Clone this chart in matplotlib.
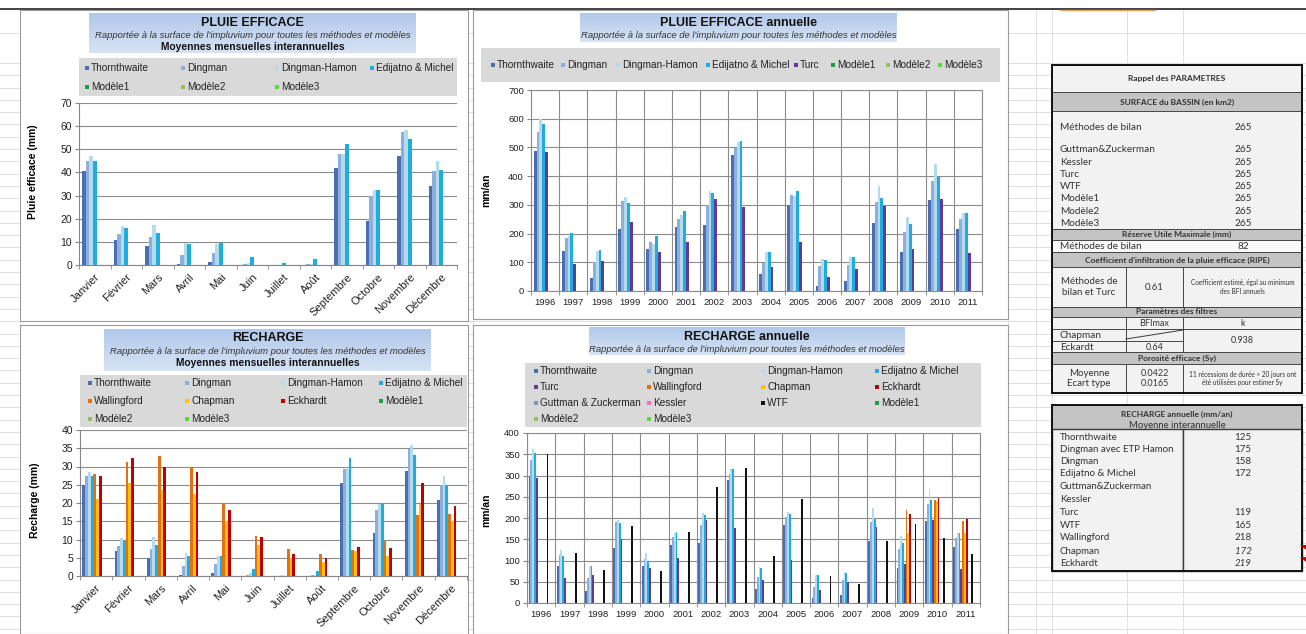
import numpy as np
import matplotlib
matplotlib.use('Agg')
import matplotlib.pyplot as plt
from matplotlib.patches import Rectangle, Polygon
from matplotlib.colors import LinearSegmentedColormap

W, H = 1306, 634

# ---- data ----
MOIS = ['Janvier', 'Février', 'Mars', 'Avril', 'Mai', 'Juin', 'Juillet', 'Août',
        'Septembre', 'Octobre', 'Novembre', 'Décembre']
ANNEES = ['1996', '1997', '1998', '1999', '2000', '2001', '2002', '2003',
          '2004', '2005', '2006', '2007', '2008', '2009', '2010', '2011']

# pluie efficace, moyennes mensuelles (mm)
pe_mois_thornthwaite = [40.5, 11, 8, 0.5, 1.2, 0, 0, 0, 42, 19, 47, 34]
pe_mois_dingman = [45, 13.5, 12, 4.5, 5, 0.5, 0, 0.3, 48, 30, 57.5, 40.5]
pe_mois_dingman_hamon = [47, 17, 17.5, 9.5, 9, 1, 0, 0.3, 48, 32.5, 58.5, 45]
pe_mois_edijatno = [45, 16, 14, 9, 9.5, 3.5, 1, 2.5, 52.5, 32.5, 54.5, 41]

# pluie efficace annuelle (mm/an)
pe_an_thornthwaite = [488, 140, 47, 216, 145, 223, 231, 474, 58, 299, 19, 34, 236, 137, 316, 215]
pe_an_dingman = [552, 184, 100, 313, 169, 252, 301, 499, 98, 334, 87, 90, 309, 206, 384, 252]
pe_an_dingman_hamon = [598, 193, 140, 328, 165, 264, 349, 519, 135, 330, 110, 119, 367, 258, 441, 272]
pe_an_edijatno = [581, 203, 142, 308, 193, 277, 342, 521, 135, 348, 109, 119, 323, 233, 398, 271]
pe_an_turc = [485, 95, 105, 242, 135, 171, 320, 292, 84, 169, 50, 78, 297, 148, 322, 134]

# recharge, moyennes mensuelles (mm)
rc_mois_thornthwaite = [25, 6.8, 5, 0.3, 0.8, 0, 0, 0, 25.5, 11.8, 28.8, 20.8]
rc_mois_dingman = [27.5, 8.2, 7.5, 2.7, 3.3, 0.3, 0, 0.2, 29.2, 18.2, 34.8, 24.8]
rc_mois_dingman_hamon = [28.5, 10.5, 10.7, 6.2, 5.5, 0.7, 0.2, 0.2, 29.3, 19.8, 35.8, 27.4]
rc_mois_edijatno = [27.5, 9.5, 8.4, 5.6, 5.6, 2, 0, 1.5, 32.2, 19.8, 33.2, 25]
rc_mois_wallingford = [28, 31.3, 33, 30, 19.8, 11, 7.5, 6, 7, 9.7, 16.7, 17]
rc_mois_chapman = [21, 25.5, 23.5, 22.5, 15, 8.5, 5, 3.8, 6.8, 5.6, 19.8, 15]
rc_mois_eckhardt = [27.5, 32.3, 30, 28.4, 18, 10.7, 6, 4.8, 8, 7.6, 25.6, 19.2]

# recharge annuelle (mm/an), filtres seulement sur 2009-2011
rc_an_thornthwaite = [298, 86, 28, 130, 88, 136, 141, 289, 34, 184, 12, 20, 145, 82, 193, 132]
rc_an_dingman = [336, 112, 60, 190, 103, 155, 184, 304, 61, 202, 38, 53, 190, 128, 234, 154]
rc_an_dingman_hamon = [363, 124, 88, 196, 118, 165, 212, 316, 84, 213, 67, 73, 224, 158, 269, 165]
rc_an_edijatno = [354, 110, 87, 188, 100, 168, 208, 316, 82, 210, 66, 71, 198, 141, 243, 165]
rc_an_turc = [295, 58, 65, 150, 82, 106, 196, 176, 53, 102, 31, 49, 179, 91, 195, 81]
nan = np.nan
rc_an_wallingford = [nan] * 13 + [218, 242, 193]
rc_an_chapman = [nan] * 13 + [165, 240, 165]
rc_an_eckhardt = [nan] * 13 + [210, 246, 198]
rc_an_wtf = [350, 118, 77, 182, 76, 166, 274, 318, 111, 245, 63, 45, 145, 186, 152, 116]

# tableau des parametres
surface_noms = ['Guttman&Zuckerman', 'Kessler', 'Turc', 'WTF', 'Modèle1', 'Modèle2', 'Modèle3']
surface_km2 = 265
recharge_noms = ['Thornthwaite', 'Dingman avec ETP Hamon', 'Dingman', 'Edijatno & Michel',
                 'Guttman&Zuckerman', 'Kessler', 'Turc', 'WTF', 'Wallingford', 'Chapman', 'Eckhardt']
recharge_moy = ['125', '175', '158', '172', '', '', '119', '165', '218', '172', '219']

COUL = {
    'Thornthwaite': '#4a6fb0',
    'Dingman': '#8eafde',
    'Dingman-Hamon': '#b4dbe9',
    'Edijatno & Michel': '#1fade0',
    'Turc': '#5e3a99',
    'Wallingford': '#e4700f',
    'Chapman': '#ffc000',
    'Eckhardt': '#c00000',
    'Guttman & Zuckerman': '#8395b0',
    'Kessler': '#ff66cc',
    'WTF': '#111111',
    'Modèle1': '#1f9a4c',
    'Modèle2': '#9bbb59',
    'Modèle3': '#5ed63c',
}

FONT = 'Liberation Sans'
TFONT = 'Lato'

fig = plt.figure(figsize=(W / 100, H / 100), dpi=100)
bg = fig.add_axes([0, 0, 1, 1], zorder=0)
bg.set_xlim(0, W)
bg.set_ylim(H, 0)
bg.axis('off')

# spreadsheet cells behind everything
for x in [20, 473, 1008, 1036, 1052, 1127, 1183]:
    bg.plot([x, x], [10, H], color='#dadada', lw=0.6, zorder=0)
rows = [33, 63] + list(np.arange(75.3, H, 12.3))
for y in rows:
    bg.plot([0, W], [y, y], color='#dadada', lw=0.6, zorder=0)
bg.plot([0, W], [9, 9], color='#333333', lw=1.3, zorder=1)
bg.plot([1060, 1155], [10, 10], color='#e0a060', lw=1.0, zorder=1)

# chart panels
for (x0, y0, x1, y1) in [(20, 10, 468, 321), (473, 10, 1008, 319),
                         (20, 325, 468, 634), (473, 325, 1008, 634)]:
    bg.add_patch(Rectangle((x0, y0), x1 - x0, y1 - y0, fc='white', ec='#9a9a9a', lw=0.8, zorder=1))

title_cmap = LinearSegmentedColormap.from_list('titre', ['#b1c8ea', '#d6e3f4'])


def title_box(x0, y0, x1, y1, lines):
    grad = np.linspace(0, 1, 60)[:, None]
    bg.imshow(grad, cmap=title_cmap, extent=[x0, x1, y1, y0], aspect='auto', zorder=2)
    xc = (x0 + x1) / 2
    for txt, y, size, weight, style in lines:
        bg.text(xc, y, txt, ha='center', va='center', fontsize=size, fontweight=weight,
                fontstyle=style, family=FONT, color='#111111' if style == 'normal' else '#333333',
                zorder=3)


def legend_box(x0, y0, x1, y1, names, cols_x, rows_y):
    bg.add_patch(Rectangle((x0, y0), x1 - x0, y1 - y0, fc='#d9d9d9', ec='none', zorder=2))
    n = len(cols_x)
    for i, name in enumerate(names):
        x = cols_x[i % n]
        y = rows_y[i // n]
        bg.add_patch(Rectangle((x - 2.3, y - 2.3), 4.6, 4.6, fc=COUL[name], ec='none', zorder=3))
        bg.text(x + 4, y, name, ha='left', va='center', fontsize=7.2, family=FONT,
                color='#222222', zorder=3)


def px_axes(x0, y0, x1, y1):
    return fig.add_axes([x0 / W, 1 - y1 / H, (x1 - x0) / W, (y1 - y0) / H], zorder=2)


def bar_chart(rect, cats, series, nslot, group, ymax, step, annual):
    ax = px_axes(*rect)
    n = len(cats)
    x = np.arange(n)
    w = group / nslot
    for k, (name, vals) in enumerate(series):
        if vals is None:
            continue
        ax.bar(x + (k - (nslot - 1) / 2) * w, vals, width=w, color=COUL[name],
               edgecolor='none', zorder=3)
    ax.set_xlim(-0.5, n - 0.5)
    ax.set_ylim(0, ymax)
    ax.set_yticks(np.arange(0, ymax + 1, step))
    ax.set_xticks(x)
    ax.set_xticks(np.arange(-0.5, n), minor=True)
    ax.set_axisbelow(True)
    ax.yaxis.grid(True, color='#8c8c8c', lw=0.8)
    ax.tick_params(axis='y', length=3, color='#868686', labelsize=6.8 if annual else 7.5, pad=2)
    ax.tick_params(axis='x', which='major', length=0, labelsize=6.8 if annual else 8)
    ax.tick_params(axis='x', which='minor', length=3, color='#868686')
    for lab in ax.get_yticklabels():
        lab.set_family(FONT)
        lab.set_color('#222222')
    if annual:
        ax.set_xticklabels(cats, family=FONT, color='#222222')
        ax.tick_params(axis='x', which='major', pad=5)
        ax.xaxis.grid(True, which='minor', color='#8c8c8c', lw=0.8)
        for s in ax.spines.values():
            s.set_color('#8c8c8c')
            s.set_linewidth(0.8)
    else:
        ax.set_xticklabels(cats, rotation=45, ha='right', rotation_mode='anchor',
                           family=FONT, color='#222222')
        ax.tick_params(axis='x', which='major', pad=5)
        ax.spines['top'].set_visible(False)
        ax.spines['right'].set_visible(False)
        ax.spines['left'].set_color('#868686')
        ax.spines['bottom'].set_color('#868686')
    return ax


SOUS_TITRE = "Rapportée à la surface de l'impluvium pour toutes les méthodes et modèles"

# ---- PLUIE EFFICACE mensuelle ----
title_box(89, 13, 416, 53, [('PLUIE EFFICACE', 22.7, 9, 'bold', 'normal'),
                            (SOUS_TITRE, 35, 6.8, 'normal', 'italic'),
                            ('Moyennes mensuelles interannuelles', 46.7, 7.4, 'bold', 'normal')])
noms_pe_mois = ['Thornthwaite', 'Dingman', 'Dingman-Hamon', 'Edijatno & Michel',
                'Modèle1', 'Modèle2', 'Modèle3']
legend_box(79, 58, 457, 96, noms_pe_mois, [87, 183, 277, 372], [68, 87])
bar_chart((79, 103, 457, 265), MOIS,
          [('Thornthwaite', pe_mois_thornthwaite), ('Dingman', pe_mois_dingman),
           ('Dingman-Hamon', pe_mois_dingman_hamon), ('Edijatno & Michel', pe_mois_edijatno),
           ('Modèle1', None), ('Modèle2', None), ('Modèle3', None)],
          7, 0.79, 70, 10, False)
bg.text(33, 172, 'Pluie efficace (mm)', rotation=90, ha='center', va='center',
        fontsize=7.5, fontweight='bold', family=FONT, zorder=3)

# ---- PLUIE EFFICACE annuelle ----
title_box(580, 13, 897, 42, [('PLUIE EFFICACE annuelle', 22.7, 9, 'bold', 'normal'),
                             (SOUS_TITRE, 35.7, 6.8, 'normal', 'italic')])
noms_pe_an = ['Thornthwaite', 'Dingman', 'Dingman-Hamon', 'Edijatno & Michel', 'Turc',
              'Modèle1', 'Modèle2', 'Modèle3']
legend_box(481, 48, 1000, 82, noms_pe_an,
           [493, 563, 618, 708, 796, 833, 888, 940], [65])
bar_chart((531, 90, 982, 291), ANNEES,
          [('Thornthwaite', pe_an_thornthwaite), ('Dingman', pe_an_dingman),
           ('Dingman-Hamon', pe_an_dingman_hamon), ('Edijatno & Michel', pe_an_edijatno),
           ('Turc', pe_an_turc), ('Modèle1', None), ('Modèle2', None), ('Modèle3', None)],
          8, 0.81, 700, 100, True)
bg.text(486, 190, 'mm/an', rotation=90, ha='center', va='center',
        fontsize=7.5, fontweight='bold', family=FONT, zorder=3)

# ---- RECHARGE mensuelle ----
title_box(104, 329, 431, 371, [('RECHARGE', 338, 9, 'bold', 'normal'),
                               (SOUS_TITRE, 351.5, 6.8, 'normal', 'italic'),
                               ('Moyennes mensuelles interannuelles', 363, 7.4, 'bold', 'normal')])
noms_rc_mois = ['Thornthwaite', 'Dingman', 'Dingman-Hamon', 'Edijatno & Michel',
                'Wallingford', 'Chapman', 'Eckhardt', 'Modèle1', 'Modèle2', 'Modèle3']
legend_box(80, 375, 467, 427, noms_rc_mois, [90, 187, 283, 381], [383, 401, 419])
bar_chart((80, 430, 467, 576), MOIS,
          [('Thornthwaite', rc_mois_thornthwaite), ('Dingman', rc_mois_dingman),
           ('Dingman-Hamon', rc_mois_dingman_hamon), ('Edijatno & Michel', rc_mois_edijatno),
           ('Wallingford', rc_mois_wallingford), ('Chapman', rc_mois_chapman),
           ('Eckhardt', rc_mois_eckhardt), ('Modèle1', None), ('Modèle2', None), ('Modèle3', None)],
          10, 0.86, 40, 5, False)
bg.text(35, 500, 'Recharge (mm)', rotation=90, ha='center', va='center',
        fontsize=7.5, fontweight='bold', family=FONT, zorder=3)

# ---- RECHARGE annuelle ----
title_box(589, 327, 905, 355, [('RECHARGE annuelle', 337, 9, 'bold', 'normal'),
                               (SOUS_TITRE, 350, 6.8, 'normal', 'italic')])
noms_rc_an = ['Thornthwaite', 'Dingman', 'Dingman-Hamon', 'Edijatno & Michel',
              'Turc', 'Wallingford', 'Chapman', 'Eckhardt',
              'Guttman & Zuckerman', 'Kessler', 'WTF', 'Modèle1', 'Modèle2', 'Modèle3']
legend_box(525, 363, 981, 427, noms_rc_an, [536, 649, 763, 877], [371, 387, 403, 419])
bar_chart((527, 433, 980, 603), ANNEES,
          [('Thornthwaite', rc_an_thornthwaite), ('Dingman', rc_an_dingman),
           ('Dingman-Hamon', rc_an_dingman_hamon), ('Edijatno & Michel', rc_an_edijatno),
           ('Turc', rc_an_turc), ('Wallingford', rc_an_wallingford),
           ('Chapman', rc_an_chapman), ('Eckhardt', rc_an_eckhardt),
           ('Guttman & Zuckerman', None), ('Kessler', None), ('WTF', rc_an_wtf),
           ('Modèle1', None), ('Modèle2', None), ('Modèle3', None)],
          14, 0.89, 400, 50, True)
bg.text(486, 510, 'mm/an', rotation=90, ha='center', va='center',
        fontsize=7.5, fontweight='bold', family=FONT, zorder=3)

bg.set_xlim(0, W)
bg.set_ylim(H, 0)

# ---- parameter tables ----
TX0, TX1 = 1052, 1302
C1, C2 = 1126, 1183
LIGHT, HEAD = '#f2f2f2', '#c4c4c4'


def cell(x0, y0, x1, y1, fc, lw=0.6):
    bg.add_patch(Rectangle((x0, y0), x1 - x0, y1 - y0, fc=fc, ec='#3a3a3a', lw=lw, zorder=2))


def ttext(x, y, s, size=7.2, weight='normal', ha='left', style='normal'):
    bg.text(x, y, s, ha=ha, va='center', fontsize=size, fontweight=weight, fontstyle=style,
            family=TFONT, color='#333333', zorder=3, linespacing=1.25)


XC = (TX0 + TX1) / 2
cell(TX0, 65, TX1, 92, LIGHT)
ttext(XC, 79, 'Rappel des PARAMETRES', 6, 'bold', 'center')
cell(TX0, 92, TX1, 111, HEAD)
ttext(XC, 102, 'SURFACE du BASSIN (en km2)', 6, 'bold', 'center')
cell(TX0, 111, TX1, 229, LIGHT)
ttext(1060, 128, 'Méthodes de bilan')
ttext(1243, 128, str(surface_km2), ha='center')
for i, nom in enumerate(surface_noms):
    y = 150 + i * 12.2
    ttext(1060, y, nom)
    ttext(1243, y, str(surface_km2), ha='center')
cell(TX0, 229, TX1, 240, HEAD)
ttext(XC, 234.5, 'Réserve Utile Maximale (mm)', 6, 'bold', 'center')
cell(TX0, 240, TX1, 252, '#fafafa')
ttext(1060, 246.5, 'Méthodes de bilan')
ttext(1243, 246.5, '82', ha='center')
cell(TX0, 252, TX1, 267, HEAD)
ttext(XC, 260, "Coefficient d'infiltration de la pluie efficace (RIPE)", 6, 'bold', 'center')
cell(TX0, 267, C1, 307, LIGHT)
cell(C1, 267, C2, 307, LIGHT)
cell(C2, 267, TX1, 307, LIGHT)
ttext((TX0 + C1) / 2, 287, 'Méthodes de\nbilan et Turc', 7, ha='center')
ttext((C1 + C2) / 2, 287, '0.61', 6.8, ha='center')
ttext((C2 + TX1) / 2, 287, 'Coefficient estimé, égal au minimum\ndes BFI annuels', 4.7, ha='center')
cell(TX0, 307, TX1, 317, HEAD)
ttext(XC, 312, 'Paramètres des filtres', 6, 'bold', 'center')
cell(TX0, 317, C1, 329, LIGHT)
cell(C1, 317, C2, 329, LIGHT)
cell(C2, 317, TX1, 329, LIGHT)
ttext((C1 + C2) / 2, 323, 'BFImax', 6.5, ha='center')
ttext((C2 + TX1) / 2, 323, 'k', 6.5, ha='center')
cell(TX0, 329, C1, 341, LIGHT)
cell(TX0, 341, C1, 352, LIGHT)
cell(C1, 329, C2, 341, LIGHT)
cell(C1, 341, C2, 352, LIGHT)
cell(C2, 329, TX1, 352, LIGHT)
bg.plot([C1, C2], [339, 330], color='#3a3a3a', lw=0.7, zorder=3)
ttext(1060, 335, 'Chapman')
ttext(1060, 347, 'Eckardt')
ttext((C1 + C2) / 2, 347, '0.64', 6.5, ha='center')
ttext((C2 + TX1) / 2, 340.5, '0.938', 6.5, ha='center')
cell(TX0, 352, TX1, 364, HEAD)
ttext(XC, 358, 'Porosité efficace (Sy)', 6, 'bold', 'center')
cell(TX0, 364, C1, 393, LIGHT)
cell(C1, 364, C2, 393, LIGHT)
cell(C2, 364, TX1, 393, LIGHT)
ttext((TX0 + C1) / 2, 378.5, 'Moyenne\nEcart type', 7, ha='center')
ttext((C1 + C2) / 2, 378.5, '0.0422\n0.0165', 6.5, ha='center')
ttext((C2 + TX1) / 2, 378.5, '11 récessions de durée > 20 jours ont\nété utilisées pour estimer Sy', 4.7, ha='center')
bg.add_patch(Rectangle((TX0, 65), TX1 - TX0, 393 - 65, fc='none', ec='#111111', lw=1.4, zorder=4))

# recharge annuelle moyenne
cell(TX0, 405, TX1, 429, HEAD)
ttext(XC, 414, 'RECHARGE annuelle (mm/an)', 6, 'bold', 'center')
ttext(XC, 425, 'Moyenne interannuelle', 6.8, ha='center')
cell(TX0, 429, C2, 571, LIGHT, lw=1.0)
cell(C2, 429, TX1, 571, LIGHT, lw=1.0)
ys = [437.7, 450, 462, 474, 486.7, 499, 512.3, 525.7, 537.7, 551.7, 564]
for nom, val, y in zip(recharge_noms, recharge_moy, ys):
    ttext(1060, y, nom, 7)
    ttext(1243, y, val, 7, ha='center', style='italic' if nom in ('Chapman', 'Eckhardt') else 'normal')
bg.add_patch(Rectangle((TX0, 405), TX1 - TX0, 571 - 405, fc='none', ec='#111111', lw=1.4, zorder=4))
for y in [546, 558]:
    bg.add_patch(Polygon([[1300, y - 1], [1306, y - 1], [1306, y + 4]], closed=True,
                         fc='#cc0000', ec='none', zorder=5))

fig.savefig('out.png', dpi=100)
